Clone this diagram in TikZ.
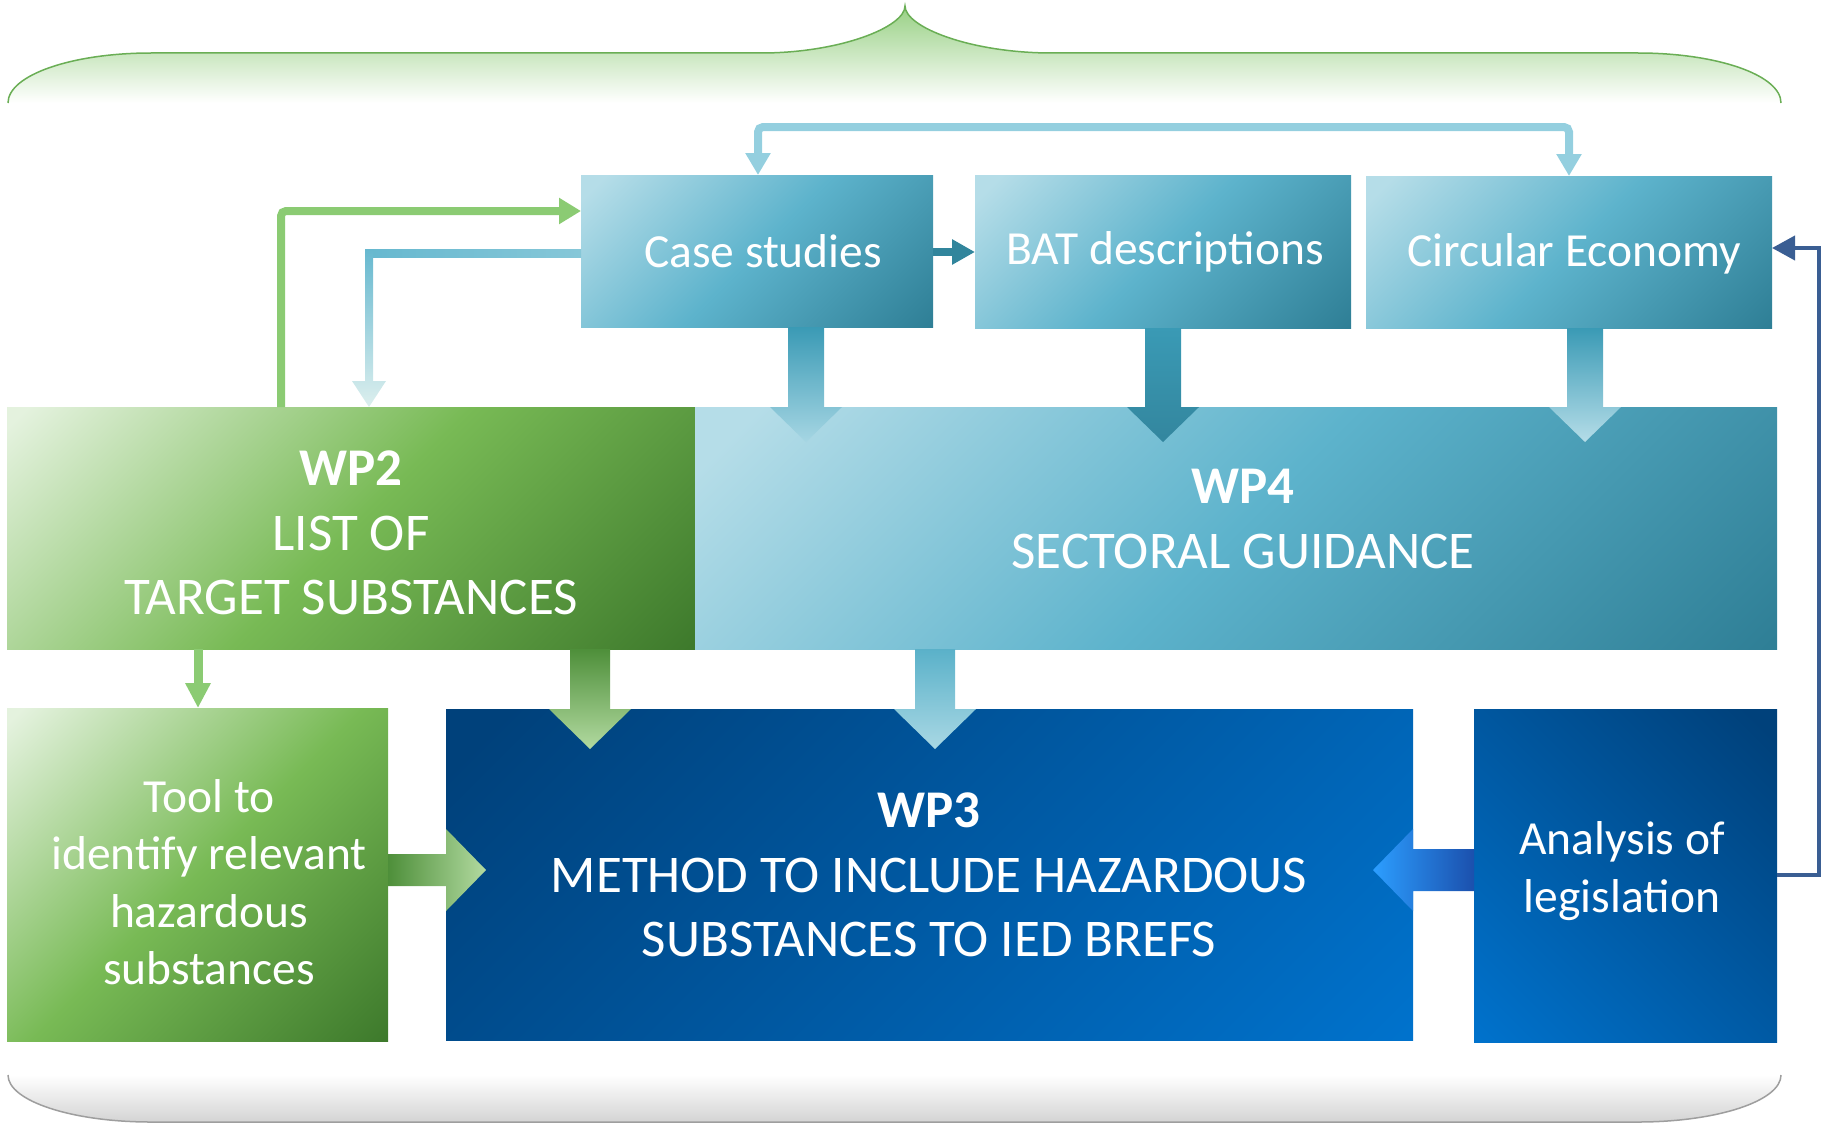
\documentclass[tikz,border=0pt]{standalone}
\usepackage{fontspec}
\setmainfont{Carlito}
\usetikzlibrary{arrows.meta,calc}
\definecolor{tealL}{HTML}{B5DDE8}
\definecolor{tealM}{HTML}{5DB3CC}
\definecolor{tealD}{HTML}{2F7F96}
\definecolor{grnL}{HTML}{E4F2DE}
\definecolor{grnM}{HTML}{78BA55}
\definecolor{grnD}{HTML}{3E7A2C}
\definecolor{navyD}{HTML}{00417B}
\definecolor{navyL}{HTML}{0072CC}
\definecolor{braceG}{HTML}{98D084}
\definecolor{braceLine}{HTML}{6AAE55}
\definecolor{loopC}{HTML}{94CFDF}
\definecolor{grnLine}{HTML}{8BCB73}
\definecolor{navyLine}{HTML}{3A5E93}
\definecolor{batArrow}{HTML}{31859C}
\definecolor{arTop}{HTML}{3A9AB5}
\definecolor{arTipL}{HTML}{A6D6E3}
\definecolor{arTipD}{HTML}{33869E}
\definecolor{gArTop}{HTML}{4E8F3A}
\definecolor{gArTip}{HTML}{B2DAA0}
\definecolor{tArTop}{HTML}{5AB1C9}
\definecolor{tArTip}{HTML}{A9D8E4}
\definecolor{tLineA}{HTML}{66B8CF}
\definecolor{tLineB}{HTML}{86C7D8}
\definecolor{tLineC}{HTML}{DCEFEE}
\definecolor{bArL}{HTML}{2C9EFF}
\definecolor{bArR}{HTML}{1B50AD}
\pgfdeclarehorizontalshading{tealsh}{100bp}{color(0bp)=(tealL); color(18bp)=(tealL); color(50bp)=(tealM); color(85bp)=(tealD); color(100bp)=(tealD)}
\pgfdeclarehorizontalshading{grnsh}{100bp}{color(0bp)=(grnL); color(16bp)=(grnL); color(50bp)=(grnM); color(85bp)=(grnD); color(100bp)=(grnD)}
\pgfdeclarehorizontalshading{navysh}{100bp}{color(0bp)=(navyD); color(18bp)=(navyD); color(85bp)=(navyL); color(100bp)=(navyL)}
\begin{document}
\begin{tikzpicture}[x=1pt,y=-1pt,
  box/.style={rectangle, inner sep=0pt, outer sep=0pt, anchor=north west},
  tealbox/.style={box, shade, shading=tealsh, shading angle=-45},
  grnbox/.style={box, shade, shading=grnsh, shading angle=-45},
  navybox/.style={box, shade, shading=navysh, shading angle=-45},
  lbl/.style={text=white, align=center, inner sep=0pt},
  big/.style={font=\fontsize{53}{64.5}\selectfont},
  med/.style={font=\fontsize{47.5}{57.5}\selectfont},
  tip/.style={-{Triangle[width=24pt,length=22pt]}}
]
\useasboundingbox (0,0) rectangle (1822,1124);
% top brace
\path[top color=braceG, bottom color=white]
  (8,103) .. controls (8,75) and (72,53) .. (151,53) -- (761,53)
  .. controls (840,53) and (905,27) .. (905,6)
  .. controls (905,27) and (970,53) .. (1052,53) -- (1638,53)
  .. controls (1717,53) and (1781,75) .. (1781,103) -- cycle;
\draw[braceLine, line width=1.5pt]
  (8,103) .. controls (8,75) and (72,53) .. (151,53) -- (761,53)
  .. controls (840,53) and (905,27) .. (905,6)
  .. controls (905,27) and (970,53) .. (1052,53) -- (1638,53)
  .. controls (1717,53) and (1781,75) .. (1781,103);
% bottom brace
\path[top color=white, bottom color=black!17]
  (8,1075) .. controls (8,1101) and (72,1122) .. (151,1122) -- (1638,1122)
  .. controls (1717,1122) and (1781,1101) .. (1781,1075) -- cycle;
\draw[black!38, line width=1.5pt]
  (8,1075) .. controls (8,1101) and (72,1122) .. (151,1122) -- (1638,1122)
  .. controls (1717,1122) and (1781,1101) .. (1781,1075);
% boxes
\node[tealbox, minimum width=352pt, minimum height=152pt] (case) at (581,175) {};
\node[tealbox, minimum width=376pt, minimum height=153pt] (bat) at (975,175) {};
\node[tealbox, minimum width=406pt, minimum height=152pt] (circ) at (1366,176) {};
\node[grnbox, minimum width=688pt, minimum height=242pt] (wp2) at (7,407) {};
\node[tealbox, minimum width=1082pt, minimum height=242pt] (wp4) at (695,407) {};
\node[grnbox, minimum width=381pt, minimum height=333pt] (tool) at (7,708) {};
\node[navybox, minimum width=967pt, minimum height=331pt] (wp3) at (446,709) {};
\node[box, shade, shading=navysh, shading angle=-135, minimum width=303pt, minimum height=333pt] (ana) at (1474,709) {};
% block arrows into WP4
\path[top color=arTop, bottom color=arTipL]
  (788,0 |- case.south) -- (824,0 |- case.south) -- (824,0 |- wp4.north) -- (842,0 |- wp4.north)
  -- (806,442) -- (770,0 |- wp4.north) -- (788,0 |- wp4.north) -- cycle;
\path[top color=arTop, middle color=tealM, bottom color=arTipD]
  (1145,0 |- bat.south) -- (1181,0 |- bat.south) -- (1181,0 |- wp4.north) -- (1199,0 |- wp4.north)
  -- (1163,442) -- (1127,0 |- wp4.north) -- (1145,0 |- wp4.north) -- cycle;
\path[top color=arTop, bottom color=tealL]
  (1567,0 |- circ.south) -- (1603,0 |- circ.south) -- (1603,0 |- wp4.north) -- (1621,0 |- wp4.north)
  -- (1585,442) -- (1549,0 |- wp4.north) -- (1567,0 |- wp4.north) -- cycle;
% block arrows into WP3
\path[top color=gArTop, bottom color=gArTip]
  (570,0 |- wp2.south) -- (610,0 |- wp2.south) -- (610,0 |- wp3.north) -- (631,0 |- wp3.north)
  -- (590,749) -- (549,0 |- wp3.north) -- (570,0 |- wp3.north) -- cycle;
\path[top color=tArTop, bottom color=tArTip]
  (915,0 |- wp4.south) -- (955,0 |- wp4.south) -- (955,0 |- wp3.north) -- (976,0 |- wp3.north)
  -- (935,749) -- (894,0 |- wp3.north) -- (915,0 |- wp3.north) -- cycle;
\path[left color=gArTop, right color=gArTip]
  (tool.east |- 0,854) -- (wp3.west |- 0,854) -- (wp3.west |- 0,829) -- (486,870)
  -- (wp3.west |- 0,911) -- (wp3.west |- 0,886) -- (tool.east |- 0,886) -- cycle;
\path[left color=bArL, right color=bArR]
  (ana.west |- 0,849) -- (wp3.east |- 0,849) -- (wp3.east |- 0,829) -- (1373,870)
  -- (wp3.east |- 0,911) -- (wp3.east |- 0,891) -- (ana.west |- 0,891) -- cycle;
% thin connectors
\draw[loopC, line width=8pt, rounded corners=5pt, {Triangle[width=24pt,length=22pt]}-{Triangle[width=24pt,length=22pt]}]
  (758,0 |- case.north) -- (758,127) -- (1569,127) -- (1569,0 |- circ.north);
\draw[grnLine, line width=8pt, rounded corners=5pt, -{Triangle[width=25pt,length=22pt]}]
  (281,0 |- wp2.north) -- (281,211) -- (case.west |- 0,211);
\path[left color=tLineA, right color=tLineB] (365,249) rectangle (case.west |- 0,257);
\path[top color=tLineA, bottom color=tLineC]
  (365,249) -- (373,249) -- (373,381) -- (386,381) -- (369,0 |- wp2.north) -- (352,381) -- (365,381) -- cycle;
\draw[navyLine, line width=4pt, -{Triangle[width=24pt,length=23pt]}]
  (ana.east |- 0,875) -- (1819,875) -- (1819,248) -- (circ.east |- 0,248);
\draw[grnLine, line width=9pt, -{Triangle[width=24pt,length=25pt]}]
  (198,0 |- wp2.south) -- (198,0 |- tool.north);
\draw[batArrow, line width=8pt, -{Triangle[width=24pt,length=23pt]}]
  (case.east |- 0,252) -- (bat.west |- 0,252);
% labels
\node[lbl,med] (caseT) at (763,251) {Case studies};
\node[lbl,med] (batT) at (1165,252) {BAT descriptions};
\node[lbl,med] (circT) at (1574,254) {Circular Economy};
\node[lbl,big] (wp2T) at (351,533) {\textbf{WP2}\\LIST OF\\TARGET SUBSTANCES};
\node[lbl,big] (wp4T) at (1243,519) {\textbf{WP4}\\SECTORAL GUIDANCE};
\node[lbl,big] (wp3T) at (929,875) {\textbf{WP3}\\METHOD TO INCLUDE HAZARDOUS\\SUBSTANCES TO IED BREFS};
\node[lbl,med] (toolT) at (209,882) {Tool to\\identify relevant\\hazardous\\substances};
\node[lbl,med] (anaT) at (1622,871) {Analysis of\\legislation};
\end{tikzpicture}
\end{document}
